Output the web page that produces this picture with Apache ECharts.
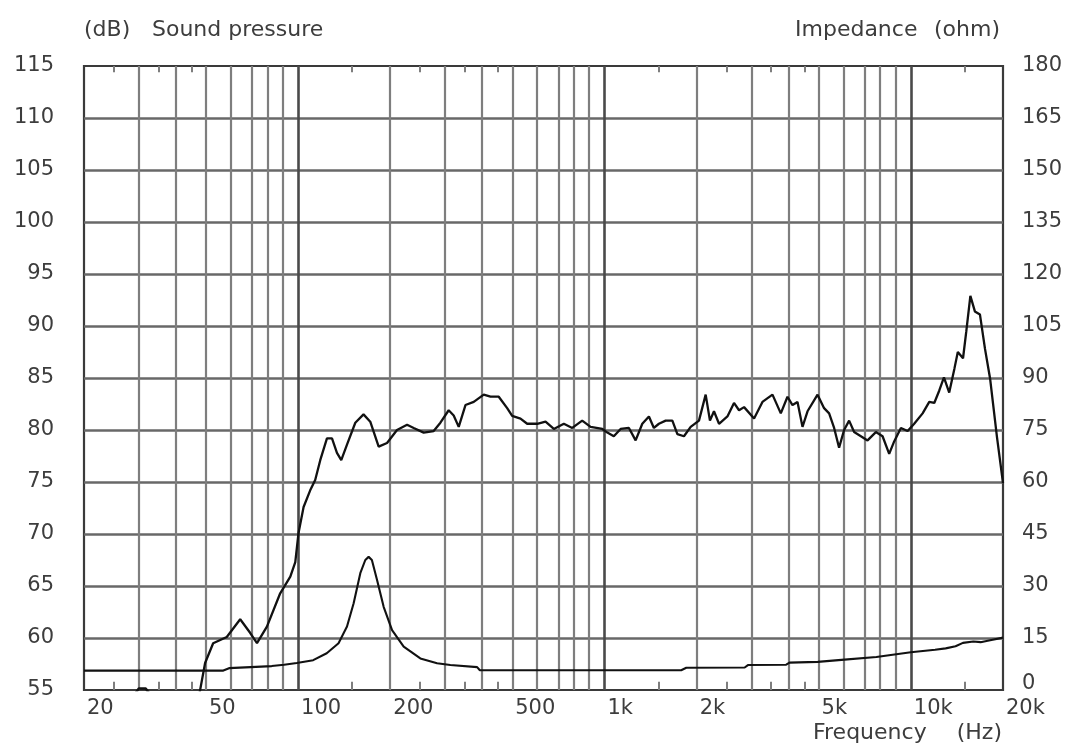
<!DOCTYPE html>
<html><head><meta charset="utf-8">
<script src="https://cdn.jsdelivr.net/npm/echarts@6/dist/echarts.min.js"></script>
<style>html,body{margin:0;padding:0;background:#fff}#c{width:1072px;height:752px}</style>
</head><body><div id="c"></div>
<script>
// Sound pressure (dB) vs frequency (Hz)
const splFreq = [47.6,49.7,52.8,58.5,64.7,69.7,73.4,79.1,87.4,94.3,97.9,100.3,104.2,109.5,113.7,118.1,124.2,129.0,133.9,138.3,144.4,153.7,163.5,172.0,183.2,195.1,210.3,226.8,238.4,257.0,277.0,291.4,310.1,322.0,334.4,351.8,374.4,403.6,424.6,451.8,481.3,499.8,532.0,559.4,603.4,642.2,683.6,737,785,846,901,984,1022,1073,1129,1202,1264,1329,1397,1450,1506,1584,1666,1730,1818,1912,2035,2140,2210,2278,2366,2520,2648,2750,2856,3079,3279,3536,3764,3958,4110,4268,4431,4602,4962,5212,5413,5620,5834,6058,6291,6532,6872,7226,7691,8089,8501,8826,9284,9764,10260,10930,11490,11930,12390,12830,13350,13880,14240,14810,15180,15650,16190,16820,17470,18160,19120,20000];
const splDb = [54.6,57.6,59.5,60.1,61.8,60.5,59.5,61.1,64.3,65.9,67.3,70.1,72.6,74.2,75.2,77.1,79.2,79.2,77.8,77.1,78.6,80.7,81.5,80.8,78.4,78.75,80.0,80.5,80.2,79.75,79.9,80.7,81.9,81.4,80.3,82.4,82.7,83.4,83.2,83.2,82.1,81.35,81.1,80.6,80.6,80.8,80.1,80.6,80.2,80.9,80.3,80.1,79.75,79.4,80.1,80.2,79.0,80.6,81.3,80.2,80.6,80.9,80.9,79.6,79.4,80.3,80.9,83.4,80.9,81.8,80.6,81.3,82.6,81.9,82.2,81.1,82.7,83.4,81.6,83.2,82.4,82.7,80.3,81.8,83.4,82.1,81.6,80.2,78.3,80.0,80.9,79.8,79.4,79.0,79.8,79.4,77.7,78.9,80.2,79.9,80.6,81.6,82.7,82.6,83.8,85.05,83.6,85.9,87.5,86.9,89.5,92.9,91.4,91.1,87.8,84.9,79.3,74.9];
const splLowFreq = [29.3, 30.2, 31.8, 32.8];
const splLowDb = [54.6, 55.15, 55.15, 54.6];
// Impedance (ohm) vs frequency (Hz)
const impFreq = [20,57,59.5,70,82,90,99,112,124,135.5,144.4,151.8,159.6,165.7,169.9,174.1,181,190.2,202.6,221.1,250.6,284.2,314,384,392,1000,1780,1850,2870,2940,3920,4020,4970,5940,7720,10000,12000,13000,14000,14800,16000,16900,18000,20000];
const impOhm = [5.6,5.6,6.3,6.6,6.9,7.3,7.8,8.6,10.6,13.5,18.3,25.0,33.7,37.5,38.4,37.5,31.7,24.0,17.3,12.5,9.1,7.7,7.2,6.6,5.7,5.7,5.7,6.4,6.5,7.2,7.3,7.9,8.1,8.7,9.5,10.9,11.6,12.0,12.6,13.6,14.0,13.8,14.3,15.1];
// Axes
const xTickFreqs = [20,50,100,200,500,1000,2000,5000,10000,20000];
const xTickLabels = ['20','50','100','200','500','1k','2k','5k','10k','20k'];
const gridFreqs = [30,40,50,60,70,80,90,200,300,400,500,600,700,800,900,2000,3000,4000,5000,6000,7000,8000,9000];
const decadeFreqs = [100,1000,10000];
const minorTickFreqs = [25,35,45,150,250,350,450,1500,2500,3500,4500,15000];

const LG = Math.log10;
const FONT = '"DejaVu Sans", sans-serif';
const TXT = '#3d3d3d';

const vLines = gridFreqs.map(f => ({xAxis: LG(f), lineStyle: {color: '#7e7e7e', width: 2.2, type: 'solid'}}))
  .concat(decadeFreqs.map(f => ({xAxis: LG(f), lineStyle: {color: '#4a4a4a', width: 2.6, type: 'solid'}})));
const minorTicks = [];
minorTickFreqs.forEach(f => {
  minorTicks.push([{coord: [LG(f), 55]}, {coord: [LG(f), 55.8]}]);
  minorTicks.push([{coord: [LG(f), 115]}, {coord: [LG(f), 114.4]}]);
});

const chart = echarts.init(document.getElementById('c'), null, {renderer: 'canvas'});
chart.setOption({
  animation: false,
  backgroundColor: '#fff',
  grid: {left: 84, right: 69, top: 66, bottom: 62, show: true, borderColor: '#3a3a3a', borderWidth: 2.2, backgroundColor: 'transparent'},
  xAxis: {
    type: 'value', min: LG(20), max: LG(20000),
    axisLine: {show: false}, axisTick: {show: false}, splitLine: {show: false},
    axisLabel: {
      customValues: xTickFreqs.map(LG),
      showMinLabel: true, showMaxLabel: true,
      align: 'left', margin: 8, padding: [0, 0, 0, 3],
      fontFamily: FONT, fontSize: 21, color: TXT,
      formatter: v => {
        const i = xTickFreqs.findIndex(f => Math.abs(LG(f) - v) < 1e-6);
        return i >= 0 ? xTickLabels[i] : '';
      }
    }
  },
  yAxis: [
    {type: 'value', min: 55, max: 115, interval: 5, position: 'left',
     axisLine: {show: false}, axisTick: {show: false},
     splitLine: {show: true, showMinLine: false, showMaxLine: false, lineStyle: {color: '#686868', width: 2.6}},
     axisLabel: {fontFamily: FONT, fontSize: 21, color: TXT, margin: 30}},
    {type: 'value', min: 0, max: 180, interval: 15, position: 'right',
     axisLine: {show: false}, axisTick: {show: false}, splitLine: {show: false},
     axisLabel: {fontFamily: FONT, fontSize: 21, color: TXT, margin: 19,
       formatter: v => v === 0 ? '{z|0}' : String(v),
       rich: {z: {fontFamily: FONT, fontSize: 21, color: TXT, padding: [0, 0, 12, 0]}}}}
  ],
  graphic: [
    {type: 'text', left: 84, top: 19, style: {text: '(dB)', font: '22px ' + FONT, fill: TXT}},
    {type: 'text', left: 152, top: 19, style: {text: 'Sound pressure', font: '22px ' + FONT, fill: TXT}},
    {type: 'text', left: 795, top: 19, style: {text: 'Impedance', font: '22px ' + FONT, fill: TXT}},
    {type: 'text', right: 72, top: 19, style: {text: '(ohm)', font: '22px ' + FONT, fill: TXT}},
    {type: 'text', left: 813, top: 722, style: {text: 'Frequency', font: '22px ' + FONT, fill: TXT}},
    {type: 'text', right: 70, top: 722, style: {text: '(Hz)', font: '22px ' + FONT, fill: TXT}}
  ],
  series: [
    {type: 'line', name: 'grid', data: [], z: 1, silent: true,
     markLine: {silent: true, symbol: 'none', animation: false, label: {show: false},
       lineStyle: {color: '#7e7e7e', width: 2, type: 'solid'},
       data: vLines.concat(minorTicks)}},
    {type: 'line', name: 'Sound pressure', yAxisIndex: 0, z: 5, showSymbol: false, symbol: 'none',
     lineStyle: {color: '#111', width: 2.3}, data: splFreq.map((f, i) => [LG(f), splDb[i]])},
    {type: 'line', name: 'Sound pressure low', yAxisIndex: 0, z: 5, showSymbol: false, symbol: 'none',
     lineStyle: {color: '#111', width: 2.5}, data: splLowFreq.map((f, i) => [LG(f), splLowDb[i]])},
    {type: 'line', name: 'Impedance', yAxisIndex: 1, z: 5, showSymbol: false, symbol: 'none',
     lineStyle: {color: '#111', width: 2.1}, data: impFreq.map((f, i) => [LG(f), impOhm[i]])}
  ]
});
</script></body></html>
